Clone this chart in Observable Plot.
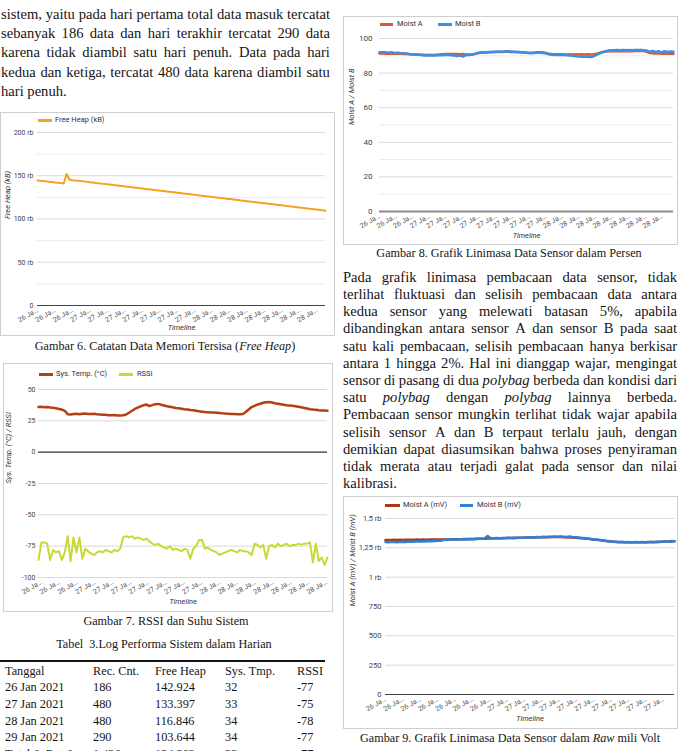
<!DOCTYPE html>
<html><head><meta charset="utf-8">
<script src="https://cdn.jsdelivr.net/npm/d3@7"></script>
<script src="https://cdn.jsdelivr.net/npm/@observablehq/plot@0.6"></script>
<style>
html,body{margin:0;padding:0;background:#fff;}
#page{position:relative;width:680px;height:751px;overflow:hidden;background:#fff;font-family:"Liberation Serif","Times New Roman",serif;color:#151515;}
.abs{position:absolute;white-space:nowrap;}
.line{position:absolute;display:flex;justify-content:space-between;white-space:nowrap;}
.box{position:absolute;border:1px solid #cfcfcf;box-sizing:border-box;}
.leg{position:absolute;font-family:Roboto,sans-serif;font-size:7.5px;line-height:7.5px;color:#333;white-space:nowrap;}
.sw{position:absolute;height:3px;}
.chart{position:absolute;}
.chart svg{display:block;}
</style></head><body><div id="page"></div>
<script>
// ---------------- DATA ----------------
// Text
const leftPara = [
  "sistem, yaitu pada hari pertama total data masuk tercatat",
  "sebanyak 186 data dan hari terakhir tercatat 290 data",
  "karena tidak diambil satu hari penuh. Data pada hari",
  "kedua dan ketiga, tercatat 480 data karena diambil satu",
  "hari penuh."
];
const rightPara = [
  "Pada grafik linimasa pembacaan data sensor, tidak",
  "terlihat fluktuasi dan selisih pembacaan data antara",
  "kedua sensor yang melewati batasan 5%, apabila",
  "dibandingkan antara sensor A dan sensor B pada saat",
  "satu kali pembacaan, selisih pembacaan hanya berkisar",
  "antara 1 hingga 2%. Hal ini dianggap wajar, mengingat",
  "sensor di pasang di dua *polybag* berbeda dan kondisi dari",
  "satu *polybag* dengan *polybag* lainnya berbeda.",
  "Pembacaan sensor mungkin terlihat tidak wajar apabila",
  "selisih sensor A dan B terpaut terlalu jauh, dengan",
  "demikian dapat diasumsikan bahwa proses penyiraman",
  "tidak merata atau terjadi galat pada sensor dan nilai",
  "kalibrasi."
];
const cap6 = "Gambar 6. Catatan Data Memori Tersisa (<i>Free Heap</i>)";
const cap7 = "Gambar 7. RSSI dan Suhu Sistem";
const tabTitle = "Tabel&nbsp; 3.Log Performa Sistem dalam Harian";
const cap8 = "Gambar 8. Grafik Linimasa Data Sensor dalam Persen";
const cap9 = "Gambar 9. Grafik Linimasa Data Sensor dalam <i>Raw</i> mili Volt";

// Table
const tblHead = ["Tanggal", "Rec. Cnt.", "Free Heap", "Sys. Tmp.", "RSSI"];
const tblDate = ["26 Jan 2021", "27 Jan 2021", "28 Jan 2021", "29 Jan 2021", "Total & Rata²"];
const tblRec = ["186", "480", "480", "290", "1.436"];
const tblHeap = ["142.924", "133.397", "116.846", "103.644", "124.203"];
const tblTmp = ["32", "33", "34", "34", "33"];
const tblRssi = ["-77", "-75", "-78", "-77", "-77"];

// Chart 6: Free Heap (thousands, "rb")
const heapKB = [
  144.6,144.2,143.9,143.5,143.1,142.7,142.3,141.9,141.5,141.0,
  152.0,145.3,144.9,144.6,144.1,143.8,143.3,143.0,142.5,142.2,
  141.7,141.4,140.9,140.6,140.1,139.8,139.3,138.9,138.5,138.1,
  137.7,137.3,136.9,136.5,136.1,135.6,135.2,134.8,134.4,134.0,
  133.6,133.2,132.8,132.4,132.0,131.6,131.2,130.8,130.4,130.0,
  129.6,129.2,128.8,128.4,128.0,127.5,127.1,126.7,126.3,125.9,
  125.5,125.1,124.7,124.3,123.9,123.5,123.1,122.7,122.3,121.9,
  121.4,121.0,120.6,120.2,119.8,119.4,119.0,118.6,118.2,117.8,
  117.4,117.0,116.6,116.2,115.8,115.3,114.9,114.5,114.1,113.7,
  113.3,112.9,112.5,112.1,111.7,111.3,110.9,110.5,110.1,109.6
];
const heapYTicks = [0, 50, 100, 150, 200];
const heapYLabels = ["0", "50 rb", "100 rb", "150 rb", "200 rb"];
const heapXLabels = ["26 Ja…","26 Ja…","26 Ja…","27 Ja…","27 Ja…","27 Ja…","27 Ja…","27 Ja…","27 Ja…","27 Ja…","28 Ja…","28 Ja…","28 Ja…","28 Ja…","28 Ja…","28 Ja…","28 Ja…"];

// Chart 7: System temperature and RSSI
const sysTemp = [
  36.0,36.2,35.8,36.0,35.6,35.4,35.0,34.5,34.0,33.0,
  30.3,30.0,30.4,30.6,30.2,30.6,30.8,30.4,30.5,30.7,
  30.3,30.1,29.8,29.9,29.5,29.4,29.6,29.2,29.3,29.5,
  30.0,31.5,33.0,34.5,35.5,36.5,37.5,38.0,36.8,37.5,
  38.3,38.5,37.8,37.2,36.6,36.2,35.8,35.3,35.0,34.7,
  34.3,34.0,33.6,33.4,33.0,32.6,32.3,32.0,31.9,31.7,
  31.6,31.5,31.3,31.0,30.8,30.7,30.5,30.4,30.3,30.3,
  30.5,32.0,34.0,36.0,37.0,38.0,38.6,39.4,39.8,40.0,
  39.6,39.0,38.6,38.2,37.8,37.4,37.2,37.0,36.6,36.2,
  35.8,35.3,34.8,34.3,34.0,33.8,33.5,33.3,33.2,33.0
];
const rssi = [
  -86,-72,-72,-73,-86,-78,-80,-79,-86,-80,
  -67,-87,-68,-80,-68,-85,-77,-79,-81,-82,
  -80,-79,-80,-78,-79,-80,-78,-79,-77,-68,
  -67,-68,-67,-69,-68,-69,-70,-69,-71,-73,
  -74,-73,-75,-76,-77,-75,-78,-77,-78,-79,
  -77,-78,-85,-77,-75,-70,-70,-77,-76,-78,
  -79,-80,-82,-81,-80,-79,-78,-79,-80,-78,
  -79,-79,-80,-82,-73,-74,-76,-74,-85,-75,
  -74,-76,-73,-75,-74,-73,-75,-74,-74,-73,
  -74,-73,-73,-72,-88,-73,-87,-84,-90,-84
];
const tempYTicks = [-100, -75, -50, -25, 0, 25, 50];
const tempYLabels = ["-100", "-75", "-50", "-25", "0", "25", "50"];
const tempXLabels = ["26 Ja…","26 Ja…","26 Ja…","27 Ja…","27 Ja…","27 Ja…","27 Ja…","27 Ja…","27 Ja…","27 Ja…","28 Ja…","28 Ja…","28 Ja…","28 Ja…","28 Ja…","28 Ja…","28 Ja…"];

// Chart 8: Moisture in percent
const moistA = [
  91.3,91.4,91.2,91.3,91.2,91.3,91.2,91.2,91.1,91.0,
  90.9,90.8,90.8,90.7,90.6,90.6,90.5,90.6,90.5,90.6,
  90.7,90.9,91.0,91.1,91.1,91.0,91.1,90.9,91.0,90.8,
  90.7,90.8,91.1,91.5,91.7,91.8,91.9,92.0,92.1,92.2,
  92.2,92.2,92.3,92.3,92.2,92.2,92.1,92.0,91.9,91.8,
  91.7,91.7,91.8,92.0,92.1,92.0,91.6,91.2,91.0,90.9,
  90.9,90.9,90.8,90.8,90.9,90.8,90.9,90.8,90.9,90.8,
  90.9,90.8,90.9,91.2,91.6,92.0,92.4,92.6,92.7,92.6,
  92.7,92.6,92.7,92.6,92.7,92.7,92.8,92.8,92.9,92.7,
  92.3,91.6,91.4,91.3,91.4,91.2,91.3,91.2,91.3,91.1
];
const moistB = [
  92.0,92.0,92.0,91.8,92.0,91.6,91.8,91.6,91.5,91.4,
  91.0,90.8,90.8,90.6,90.4,90.2,90.3,90.1,90.3,90.2,
  90.4,90.3,90.5,90.4,90.3,90.2,89.8,90.2,89.5,90.3,
  90.4,90.6,91.0,91.6,91.9,92.0,92.1,92.2,92.3,92.4,
  92.5,92.4,92.5,92.6,92.5,92.4,92.3,92.2,92.1,91.9,
  91.6,91.5,91.6,91.7,91.8,91.6,91.4,90.9,90.6,90.5,
  90.4,90.5,90.4,90.3,90.1,90.0,89.8,89.6,89.5,89.4,
  89.4,89.3,89.6,90.5,91.3,92.0,92.6,93.0,93.2,93.2,
  93.3,93.2,93.3,93.2,93.3,93.2,93.3,93.4,93.3,93.2,
  93.0,92.3,92.8,92.2,92.7,92.0,92.6,92.2,92.5,92.3
];
const moistYTicks = [0, 20, 40, 60, 80, 100];
const moistYLabels = ["0", "20", "40", "60", "80", "100"];
const moistYMinor = [10, 30, 50, 70, 90];
const moistXLabels = ["26 Ja…","26 Ja…","26 Ja…","27 Ja…","27 Ja…","27 Ja…","27 Ja…","27 Ja…","27 Ja…","27 Ja…","27 Ja…","28 Ja…","28 Ja…","28 Ja…","28 Ja…","28 Ja…","28 Ja…","28 Ja…"];

// Chart 9: Moisture raw millivolt
const mvA = [
  1316,1317,1316,1318,1317,1318,1317,1319,1318,1319,
  1318,1320,1319,1320,1319,1320,1320,1321,1320,1321,
  1321,1322,1322,1323,1323,1324,1324,1325,1325,1326,
  1326,1327,1327,1328,1328,1330,1330,1331,1331,1332,
  1332,1333,1333,1334,1334,1335,1335,1336,1337,1338,
  1338,1339,1340,1340,1341,1341,1342,1342,1342,1342,
  1342,1341,1340,1339,1337,1335,1333,1331,1329,1327,
  1325,1322,1319,1316,1313,1310,1307,1304,1302,1300,
  1299,1299,1298,1298,1298,1298,1298,1298,1298,1298,
  1299,1299,1300,1300,1301,1302,1303,1304,1305,1306
];
const mvB = [
  1300,1298,1302,1300,1297,1301,1299,1300,1303,1301,
  1304,1305,1303,1306,1305,1308,1306,1309,1311,1310,
  1318,1321,1319,1322,1320,1323,1321,1324,1322,1325,
  1323,1326,1328,1327,1330,1352,1332,1330,1333,1331,
  1334,1332,1335,1333,1336,1334,1337,1335,1338,1340,
  1338,1341,1343,1340,1344,1342,1345,1343,1346,1344,
  1347,1345,1343,1346,1342,1340,1338,1335,1333,1330,
  1327,1324,1320,1318,1315,1312,1309,1306,1303,1301,
  1298,1300,1297,1299,1296,1298,1300,1297,1299,1296,
  1298,1300,1297,1301,1299,1303,1306,1304,1308,1306
];
const mvYTicks = [0, 250, 500, 750, 1000, 1250, 1500];
const mvYLabels = ["0", "250", "500", "750", "1 rb", "1,25 rb", "1,5 rb"];
const mvXLabels = ["26 Ja…","26 Ja…","26 Ja…","26 Ja…","26 Ja…","26 Ja…","26 Ja…","27 Ja…","27 Ja…","27 Ja…","27 Ja…","27 Ja…","27 Ja…","27 Ja…","27 Ja…","27 Ja…","27 Ja…"];

// ---------------- LAYOUT HELPERS ----------------
const page = document.getElementById("page");
const SERIF_ASC = 0.8375;
function textAt(html, x, baseline, fs, opts = {}) {
  const d = document.createElement("div");
  d.className = "abs";
  d.style.left = x + "px";
  d.style.top = (baseline - SERIF_ASC * fs) + "px";
  d.style.fontSize = fs + "px";
  d.style.lineHeight = fs + "px";
  if (opts.width) { d.style.width = opts.width + "px"; d.style.textAlign = "center"; }
  d.innerHTML = html;
  page.appendChild(d);
  return d;
}
function textCenter(html, cx, baseline, fs) {
  return textAt(html, cx - 200, baseline, fs, {width: 400});
}
function jline(str, x, baseline, width, fs) {
  const d = document.createElement("div");
  d.className = "line";
  Object.assign(d.style, {left: x + "px", top: (baseline - SERIF_ASC * fs) + "px", width: width + "px", fontSize: fs + "px", lineHeight: fs + "px"});
  for (const w of str.split(" ")) {
    const s = document.createElement("span");
    s.innerHTML = w.replace(/\*(.+?)\*/g, "<i>$1</i>");
    d.appendChild(s);
  }
  page.appendChild(d);
}
function paragraph(lines, x, firstBaseline, lh, width, fs) {
  lines.forEach((l, k) => {
    const b = firstBaseline + k * lh;
    if (k === lines.length - 1) textAt(l, x, b, fs);
    else jline(l, x, b, width, fs);
  });
}
function box(left, top, w, h) {
  const d = document.createElement("div");
  d.className = "box";
  Object.assign(d.style, {left: left + "px", top: top + "px", width: w + "px", height: h + "px"});
  page.appendChild(d);
}
function legend(items, y) {
  for (const it of items) {
    const s = document.createElement("div");
    s.className = "sw";
    Object.assign(s.style, {left: it.x1 + "px", width: (it.x2 - it.x1) + "px", top: (y - 1.5) + "px", background: it.color});
    page.appendChild(s);
    const t = document.createElement("div");
    t.className = "leg";
    Object.assign(t.style, {left: it.tx + "px", top: (y - 4.3) + "px"});
    t.textContent = it.label;
    page.appendChild(t);
  }
}
function chart(c) {
  const n = c.series[0].values.length;
  const xTicks = c.xLabels.map((_, k) => c.xStart + k * c.xStep);
  const xm = new Map(xTicks.map((t, k) => [t, c.xLabels[k]]));
  const ym = new Map(c.yTicks.map((t, k) => [t, c.yLabels[k]]));
  const marks = [];
  if (c.minor) marks.push(Plot.gridY(c.minor, {stroke: "#ebebeb", strokeOpacity: 1}));
  marks.push(Plot.gridY(c.yTicks.filter(t => t !== 0), {stroke: "#d9d9d9", strokeOpacity: 1}));
  marks.push(Plot.ruleY([0], {stroke: c.zeroStroke, strokeWidth: c.zeroWidth}));
  marks.push(Plot.axisY(c.yTicks, {tickSize: 0, tickPadding: c.yPad, tickFormat: d => ym.get(d), fill: "#444", fontSize: c.fs, label: null}));
  marks.push(Plot.axisX(xTicks, {tickSize: 0, tickPadding: 4, tickRotate: -30, tickFormat: d => xm.get(d), fill: "#555", fontSize: c.xfs, label: null}));
  for (const s of c.series) {
    marks.push(Plot.line(s.values, {x: (d, i) => i, y: d => d, stroke: s.color, strokeWidth: s.w, strokeLinejoin: "round"}));
  }
  marks.push(Plot.text([c.yTitle], {frameAnchor: "left", dx: c.yTitleDx, rotate: -90, fontStyle: "italic", fill: "#333", fontSize: c.tfs}));
  marks.push(Plot.text(["Timeline"], {frameAnchor: "bottom", dy: c.tlDy, fontStyle: "italic", fill: "#333", fontSize: c.tfs}));
  const svg = Plot.plot({
    width: c.W, height: c.H,
    marginLeft: c.mL, marginRight: c.mR, marginTop: c.mT, marginBottom: c.mB,
    x: {domain: [0, n - 1]},
    y: {domain: c.yDomain},
    style: {background: "transparent", fontFamily: "Roboto, sans-serif", fontSize: c.fs + "px", color: "#555", overflow: "visible"},
    marks
  });
  const wrap = document.createElement("div");
  wrap.className = "chart";
  Object.assign(wrap.style, {left: c.left + "px", top: c.top + "px", width: c.W + "px", height: c.H + "px"});
  wrap.appendChild(svg);
  page.appendChild(wrap);
}

// ---------------- TEXT ----------------
const BODY = 14.6;
paragraph(leftPara, 1, 19.3, 19.2, 329, BODY);
paragraph(rightPara, 343, 282, 17.2, 334, BODY);
textCenter(cap6, 165, 350, 12.2);
textCenter(cap7, 166, 625, 12.2);
textCenter(tabTitle, 164, 648.3, 12.2);
textCenter(cap8, 509, 257, 12.2);
textCenter(cap9, 510, 742, 12.2);

// ---------------- TABLE ----------------
const rule = document.createElement("div");
Object.assign(rule.style, {position: "absolute", left: "0px", top: "659.5px", width: "325px", height: "2.2px", background: "#111"});
page.appendChild(rule);
const colX = [5, 93, 155, 225, 297];
const rowBase = [675, 691.7, 708.3, 725, 741.7, 758.4];
const TFS = 12.3;
tblHead.forEach((h, j) => textAt(h, colX[j], rowBase[0], TFS));
const cols = [tblDate, tblRec, tblHeap, tblTmp, tblRssi];
tblDate.forEach((_, r) => cols.forEach((col, j) => {
  const d = textAt("", colX[j], rowBase[r + 1], TFS);
  d.textContent = col[r];
}));

// ---------------- CHARTS ----------------
// Chart 6
box(0, 112, 335, 224);
legend([{x1: 38, x2: 52, tx: 55, label: "Free Heap (kB)", color: "#f4a21f"}], 120);
chart({left: 1, top: 126, W: 333, H: 209, mL: 36, mR: 9, mT: 6, mB: 30,
  yDomain: [0, 200], yTicks: heapYTicks, yLabels: heapYLabels, minor: [25, 75, 125, 175],
  xLabels: heapXLabels, xStart: 0, xStep: 6,
  series: [{values: heapKB, color: "#f4a21f", w: 2}],
  yTitle: "Free Heap (kB)", yTitleDx: -30, tlDy: 24, yPad: 4,
  zeroStroke: "#444", zeroWidth: 1, fs: 7, xfs: 7, tfs: 7.5});

// Chart 7
box(3, 363, 330, 249);
legend([{x1: 39, x2: 53, tx: 56, label: "Sys. Temp. (°C)", color: "#b43f11"},
        {x1: 119, x2: 133, tx: 137, label: "RSSI", color: "#c8d934"}], 374);
chart({left: 3, top: 382, W: 330, H: 228, mL: 35, mR: 6, mT: 7, mB: 33,
  yDomain: [-100, 50], yTicks: tempYTicks, yLabels: tempYLabels, minor: null,
  xLabels: tempXLabels, xStart: 1, xStep: 6.1,
  series: [{values: sysTemp, color: "#b43f11", w: 2.5}, {values: rssi, color: "#c8d934", w: 2}],
  yTitle: "Sys. Temp. (°C) / RSSI", yTitleDx: -30, tlDy: 26, yPad: 3,
  zeroStroke: "#333", zeroWidth: 1.2, fs: 7, xfs: 7, tfs: 7.5});

// Chart 8
box(343, 16, 335, 229);
legend([{x1: 380, x2: 393, tx: 397, label: "Moist A", color: "#e4572e"},
        {x1: 438, x2: 452, tx: 455, label: "Moist B", color: "#3c8fe1"}], 24.3);
chart({left: 343, top: 30, W: 334, H: 213, mL: 36, mR: 4, mT: 8, mB: 32,
  yDomain: [0, 100], yTicks: moistYTicks, yLabels: moistYLabels, minor: moistYMinor,
  xLabels: moistXLabels, xStart: 0, xStep: 5.6,
  series: [{values: moistA, color: "#e4572e", w: 2.5}, {values: moistB, color: "#3c8fe1", w: 2.5}],
  yTitle: "Moist A / Moist B", yTitleDx: -28, tlDy: 26, yPad: 7,
  zeroStroke: "#8a8a8a", zeroWidth: 2, fs: 8, xfs: 7, tfs: 7.5});

// Chart 9
box(343, 496, 335, 233);
legend([{x1: 385, x2: 400, tx: 403, label: "Moist A (mV)", color: "#a83b15"},
        {x1: 460, x2: 473, tx: 477, label: "Moist B (mV)", color: "#2f80d6"}], 505);
chart({left: 343, top: 512, W: 334, H: 215, mL: 42, mR: 3, mT: 6, mB: 33,
  yDomain: [0, 1500], yTicks: mvYTicks, yLabels: mvYLabels, minor: null,
  xLabels: mvXLabels, xStart: 0, xStep: 5.95,
  series: [{values: mvA, color: "#a83b15", w: 2.5}, {values: mvB, color: "#2f80d6", w: 2.5}],
  yTitle: "Moist A (mV) / Moist B (mV)", yTitleDx: -33, tlDy: 26, yPad: 4,
  zeroStroke: "#444", zeroWidth: 1, fs: 7.5, xfs: 7, tfs: 7.5});
</script></body></html>
